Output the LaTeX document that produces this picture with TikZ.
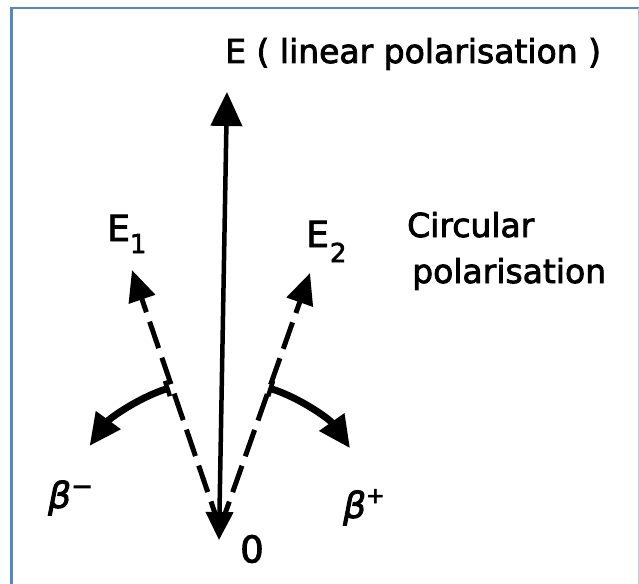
\documentclass[tikz,border=0pt]{standalone}
\usepackage{fontspec}
\setmainfont{DejaVu Sans}[FakeBold=2.5]
\usetikzlibrary{arrows.meta,calc}
\definecolor{framecol}{RGB}{84,135,200}
\begin{document}
\begin{tikzpicture}[x=1pt,y=-1pt,
  lab/.style={inner sep=0pt,font=\fontsize{33}{33}\selectfont},
  mainarrow/.style={line width=4.5pt,{Triangle[length=28pt,width=27pt]}-{Triangle[length=34pt,width=31pt]}},
  dasharrow/.style={line width=5pt,dash pattern=on 28pt off 10pt,-{Triangle[length=31pt,width=27pt]}},
  rotarrow/.style={line width=7pt,{Bar[width=16pt,line width=4.5pt]}-{Triangle[length=32pt,width=29pt]}}]
\useasboundingbox (0,0) rectangle (639,583);
% frame
\draw[framecol,line width=2.5pt] (11.5,590) -- (11.5,8) -- (639,8);
\draw[framecol!45,line width=1pt] (638.3,8) -- (638.3,590);
% points
\coordinate (O) at (219,540);
\coordinate (D) at (220,528);
\coordinate (Etip) at (227,92);
\coordinate (E1tip) at (132,270);
\coordinate (E2tip) at (310,273);
\coordinate (L1) at ($(O)+(-108:160)$);
\coordinate (R1) at ($(O)+(-72:160)$);
% arrows
\draw[mainarrow] (O) -- (Etip);
\draw[dasharrow] (D) -- (E1tip);
\draw[dasharrow] (D) -- (E2tip);
\draw[rotarrow] (L1) arc[start angle=-108,end angle=-144,radius=160];
\draw[rotarrow] (R1) arc[start angle=-72,end angle=-35,radius=160];
% labels
\node[lab,anchor=base west] (title) at (225,63) {E ( linear polarisation )};
\node[lab,anchor=base west,font=\fontsize{36}{36}\selectfont] (E1lab) at (107,241) {E\raisebox{-12pt}{\fontsize{26}{26}\selectfont 1}};
\node[lab,anchor=base west,font=\fontsize{36}{36}\selectfont] (E2lab) at (306,247) {E\hspace{1pt}\raisebox{-15pt}{\fontsize{26}{26}\selectfont 2}};
\node[lab,anchor=base west] (circ) at (407,237) {Circular};
\node[lab,anchor=base west] (pol) at (412,283) {polarisation};
\node[lab,font=\fontsize{37}{37}\selectfont] (zero) at (252,549) {0};
\node[lab,anchor=base west,font=\fontsize{36}{36}\selectfont] (bm) at (48,508) {\itshape β\raisebox{13pt}{\fontsize{26}{26}\selectfont −}};
\node[lab,anchor=base west,font=\fontsize{36}{36}\selectfont] (bp) at (343,518) {\itshape β\raisebox{15pt}{\fontsize{22}{22}\selectfont +}};
\end{tikzpicture}
\end{document}
